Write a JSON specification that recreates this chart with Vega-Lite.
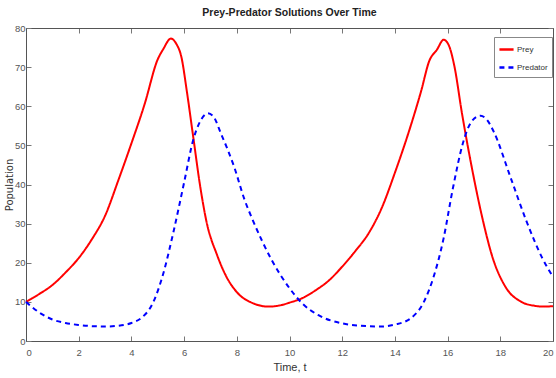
{
  "$schema": "https://vega.github.io/schema/vega-lite/v6.json",
  "width": 527,
  "height": 313,
  "autosize": {"type": "none"},
  "padding": {"left": 26, "top": 28, "right": 3, "bottom": 37},
  "background": "white",
  "config": {
    "view": {"stroke": null},
    "font": "Liberation Sans, sans-serif",
    "axis": {
      "grid": false,
      "domainColor": "#555555",
      "tickColor": "#777777",
      "labelColor": "#555555",
      "labelFontSize": 9.5,
      "labelFont": "Liberation Sans, sans-serif",
      "titleFont": "Liberation Sans, sans-serif",
      "titleFontWeight": "normal",
      "titleColor": "#333333",
      "titleFontSize": 11
    }
  },
  "title": {
    "text": "Prey-Predator Solutions Over Time",
    "fontSize": 10.5,
    "fontWeight": "bold",
    "font": "Liberation Sans, sans-serif",
    "color": "#222222",
    "anchor": "middle",
    "offset": 5
  },
  "data": {
    "values": [
      {"t": 0, "value": 10, "series": "Prey"},
      {"t": 0.5, "value": 12, "series": "Prey"},
      {"t": 1, "value": 14.3, "series": "Prey"},
      {"t": 1.5, "value": 17.5, "series": "Prey"},
      {"t": 2, "value": 21.2, "series": "Prey"},
      {"t": 2.5, "value": 26, "series": "Prey"},
      {"t": 3, "value": 32, "series": "Prey"},
      {"t": 3.5, "value": 41, "series": "Prey"},
      {"t": 4, "value": 50.5, "series": "Prey"},
      {"t": 4.5, "value": 60.5, "series": "Prey"},
      {"t": 5, "value": 72, "series": "Prey"},
      {"t": 5.2, "value": 74.5, "series": "Prey"},
      {"t": 5.5, "value": 77.3, "series": "Prey"},
      {"t": 5.7, "value": 76, "series": "Prey"},
      {"t": 5.9, "value": 72.5, "series": "Prey"},
      {"t": 6.1, "value": 64, "series": "Prey"},
      {"t": 6.35, "value": 52, "series": "Prey"},
      {"t": 6.6, "value": 40, "series": "Prey"},
      {"t": 6.85, "value": 30.5, "series": "Prey"},
      {"t": 7.25, "value": 22, "series": "Prey"},
      {"t": 7.6, "value": 16.5, "series": "Prey"},
      {"t": 8, "value": 12.5, "series": "Prey"},
      {"t": 8.6, "value": 9.7, "series": "Prey"},
      {"t": 9.2, "value": 8.8, "series": "Prey"},
      {"t": 9.7, "value": 9.2, "series": "Prey"},
      {"t": 10, "value": 9.8, "series": "Prey"},
      {"t": 10.5, "value": 11, "series": "Prey"},
      {"t": 11, "value": 13, "series": "Prey"},
      {"t": 11.5, "value": 15.5, "series": "Prey"},
      {"t": 12, "value": 19, "series": "Prey"},
      {"t": 12.5, "value": 23, "series": "Prey"},
      {"t": 13, "value": 27.5, "series": "Prey"},
      {"t": 13.5, "value": 34, "series": "Prey"},
      {"t": 14, "value": 43, "series": "Prey"},
      {"t": 14.6, "value": 55, "series": "Prey"},
      {"t": 15, "value": 64, "series": "Prey"},
      {"t": 15.3, "value": 71.5, "series": "Prey"},
      {"t": 15.6, "value": 74.5, "series": "Prey"},
      {"t": 15.85, "value": 77, "series": "Prey"},
      {"t": 16.05, "value": 75.5, "series": "Prey"},
      {"t": 16.25, "value": 70.5, "series": "Prey"},
      {"t": 16.55, "value": 58, "series": "Prey"},
      {"t": 16.9, "value": 45, "series": "Prey"},
      {"t": 17.3, "value": 32, "series": "Prey"},
      {"t": 17.7, "value": 21.5, "series": "Prey"},
      {"t": 18.2, "value": 13.8, "series": "Prey"},
      {"t": 18.8, "value": 10, "series": "Prey"},
      {"t": 19.3, "value": 9, "series": "Prey"},
      {"t": 19.6, "value": 8.8, "series": "Prey"},
      {"t": 20, "value": 8.9, "series": "Prey"},
      {"t": 0, "value": 10, "series": "Predator"},
      {"t": 0.5, "value": 7.3, "series": "Predator"},
      {"t": 1, "value": 5.5, "series": "Predator"},
      {"t": 1.5, "value": 4.6, "series": "Predator"},
      {"t": 2, "value": 4.1, "series": "Predator"},
      {"t": 2.5, "value": 3.8, "series": "Predator"},
      {"t": 3, "value": 3.7, "series": "Predator"},
      {"t": 3.5, "value": 3.9, "series": "Predator"},
      {"t": 4, "value": 4.6, "series": "Predator"},
      {"t": 4.4, "value": 6, "series": "Predator"},
      {"t": 4.8, "value": 9.5, "series": "Predator"},
      {"t": 5.2, "value": 17, "series": "Predator"},
      {"t": 5.6, "value": 28, "series": "Predator"},
      {"t": 6, "value": 40.5, "series": "Predator"},
      {"t": 6.35, "value": 51.5, "series": "Predator"},
      {"t": 6.6, "value": 56, "series": "Predator"},
      {"t": 6.9, "value": 58.2, "series": "Predator"},
      {"t": 7.1, "value": 57.5, "series": "Predator"},
      {"t": 7.4, "value": 53, "series": "Predator"},
      {"t": 7.9, "value": 44.5, "series": "Predator"},
      {"t": 8.3, "value": 36, "series": "Predator"},
      {"t": 8.6, "value": 31, "series": "Predator"},
      {"t": 9.3, "value": 21, "series": "Predator"},
      {"t": 10, "value": 13.5, "series": "Predator"},
      {"t": 10.5, "value": 9.5, "series": "Predator"},
      {"t": 11.1, "value": 6.6, "series": "Predator"},
      {"t": 12, "value": 4.5, "series": "Predator"},
      {"t": 13, "value": 3.8, "series": "Predator"},
      {"t": 13.5, "value": 3.7, "series": "Predator"},
      {"t": 14, "value": 4.2, "series": "Predator"},
      {"t": 14.6, "value": 5.8, "series": "Predator"},
      {"t": 15.1, "value": 10, "series": "Predator"},
      {"t": 15.45, "value": 16, "series": "Predator"},
      {"t": 15.85, "value": 26.3, "series": "Predator"},
      {"t": 16.2, "value": 39, "series": "Predator"},
      {"t": 16.6, "value": 51, "series": "Predator"},
      {"t": 16.9, "value": 56, "series": "Predator"},
      {"t": 17.25, "value": 57.6, "series": "Predator"},
      {"t": 17.5, "value": 56.5, "series": "Predator"},
      {"t": 17.75, "value": 53.5, "series": "Predator"},
      {"t": 18.4, "value": 41.6, "series": "Predator"},
      {"t": 19, "value": 30.5, "series": "Predator"},
      {"t": 19.6, "value": 21.1, "series": "Predator"},
      {"t": 20, "value": 16.4, "series": "Predator"}
    ]
  },
  "layer": [
    {
      "mark": {"type": "line", "strokeWidth": 2, "interpolate": "monotone"},
      "encoding": {
        "x": {
          "field": "t", "type": "quantitative",
          "scale": {"domain": [0, 20], "nice": false, "zero": false},
          "axis": {"title": "Time, t", "values": [0,2,4,6,8,10,12,14,16,18,20], "tickSize": -5, "labelPadding": 11, "titlePadding": 5, "labelFlush": true}
        },
        "y": {
          "field": "value", "type": "quantitative",
          "scale": {"domain": [0, 80], "nice": false},
          "axis": {"title": "Population", "values": [0,10,20,30,40,50,60,70,80], "tickSize": -5, "labelPadding": 6, "titlePadding": 0, "labelFlush": false, "titleFont": "DejaVu Sans", "titleFontSize": 10}
        },
        "color": {
          "field": "series", "type": "nominal",
          "scale": {"domain": ["Prey", "Predator"], "range": ["#ff0000", "#0000ff"]},
          "legend": {
            "title": null, "orient": "none", "legendX": 468, "legendY": 9,
            "symbolType": "stroke", "symbolSize": 200, "symbolStrokeWidth": 2.5,
            "labelFontSize": 8, "labelColor": "#333333", "labelOffset": 2,
            "strokeColor": "#888888", "fillColor": "white", "padding": 4, "rowPadding": 4,
            "labelFont": "Liberation Sans, sans-serif"
          }
        },
        "strokeDash": {
          "field": "series", "type": "nominal",
          "scale": {"domain": ["Prey", "Predator"], "range": [[1, 0], [5, 4]]},
          "legend": null
        }
      }
    },
    {
      "mark": {"type": "line", "opacity": 0},
      "encoding": {
        "x": {
          "field": "t", "type": "quantitative",
          "scale": {"domain": [0, 20], "nice": false, "zero": false},
          "axis": {"orient": "top", "title": null, "labels": false, "values": [0,2,4,6,8,10,12,14,16,18,20], "tickSize": -5}
        },
        "y": {
          "field": "value", "type": "quantitative",
          "scale": {"domain": [0, 80], "nice": false},
          "axis": {"orient": "right", "title": null, "labels": false, "values": [0,10,20,30,40,50,60,70,80], "tickSize": -5}
        },
        "detail": {"field": "series", "type": "nominal"}
      }
    }
  ],
  "resolve": {"axis": {"x": "independent", "y": "independent"}}
}
